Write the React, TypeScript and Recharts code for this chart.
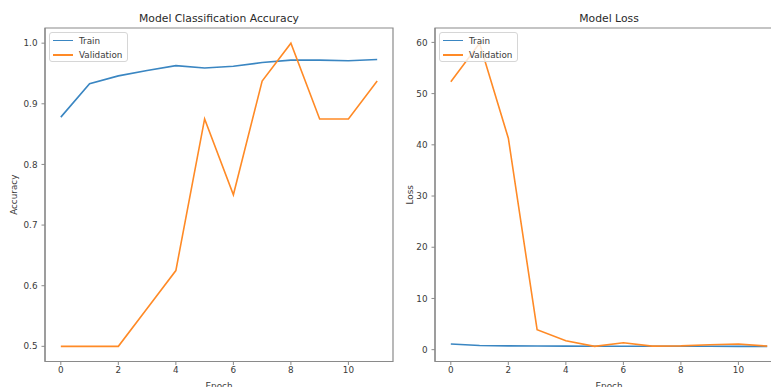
import React from 'react';
import { LineChart, Line, XAxis, YAxis, ReferenceArea, Legend, Label } from 'recharts';

const epochs = [0, 1, 2, 3, 4, 5, 6, 7, 8, 9, 10, 11];
const trainAccuracy = [0.878, 0.933, 0.946, 0.955, 0.963, 0.959, 0.962, 0.968, 0.972, 0.972, 0.971, 0.973];
const validationAccuracy = [0.5, 0.5, 0.5, 0.5625, 0.625, 0.875, 0.75, 0.9375, 1.0, 0.875, 0.875, 0.9375];
const trainLoss = [1.1, 0.8, 0.75, 0.72, 0.7, 0.68, 0.68, 0.67, 0.66, 0.66, 0.65, 0.65];
const validationLoss = [52.3, 59.85, 41.3, 3.9, 1.75, 0.65, 1.35, 0.7, 0.75, 0.95, 1.1, 0.7];

const epochTicks = [0, 2, 4, 6, 8, 10];
const accuracyTicks = [0.5, 0.6, 0.7, 0.8, 0.9, 1.0];
const lossTicks = [0, 10, 20, 30, 40, 50, 60];

const FONT = '"DejaVu Sans", sans-serif';
const TRAIN_COLOR = '#3a86c2';
const VAL_COLOR = '#ff8a26';
const SPINE = '#8a8a8a';
const TEXT = '#3a3a3a';

const pad = (vals: number[]): [number, number] => {
  const lo = Math.min(...vals);
  const hi = Math.max(...vals);
  const m = (hi - lo) * 0.05;
  return [lo - m, hi + m];
};

const xDomain = pad(epochs);
const accDomain = pad([...trainAccuracy, ...validationAccuracy]);
const lossDomain = pad([...trainLoss, ...validationLoss]);

const accuracyData = epochs.map((e, i) => ({ epoch: e, train: trainAccuracy[i], validation: validationAccuracy[i] }));
const lossData = epochs.map((e, i) => ({ epoch: e, train: trainLoss[i], validation: validationLoss[i] }));

const renderLegend = (props: any) => {
  const payload = props.payload || [];
  return (
    <div
      style={{
        position: 'absolute',
        left: 49,
        top: 32,
        width: 79,
        height: 30,
        boxSizing: 'border-box',
        border: '1px solid #d6d6d6',
        borderRadius: 3,
        background: 'rgba(255,255,255,0.8)',
        fontFamily: FONT,
        fontSize: 8.8,
        color: TEXT,
        lineHeight: '12px',
      }}
    >
      {payload.map((entry: any, i: number) => (
        <div
          key={i}
          style={{ position: 'absolute', left: 2.7, top: 1.7 + i * 14.3, height: 12, display: 'flex', alignItems: 'center', whiteSpace: 'nowrap' }}
        >
          <span style={{ display: 'inline-block', width: 20, height: 1.6, background: entry.color, marginRight: 6.3 }} />
          <span>{entry.value}</span>
        </div>
      ))}
    </div>
  );
};

const tickStyle = { fontSize: 8.8, fill: TEXT, fontFamily: FONT };

type PanelProps = {
  data: any[];
  yDomain: [number, number];
  yTicks: number[];
  yFormat: (v: number) => string;
  yLabel: string;
  yLabelOffset: number;
  width: number;
  rightMargin: number;
};

const Panel = ({ data, yDomain, yTicks, yFormat, yLabel, yLabelOffset, width, rightMargin }: PanelProps) => (
  <LineChart width={width} height={387} data={data} margin={{ top: 28, right: rightMargin, bottom: 0, left: 0 }}>
    <ReferenceArea
      x1={xDomain[0]}
      x2={xDomain[1]}
      y1={yDomain[0]}
      y2={yDomain[1]}
      fill="none"
      fillOpacity={0}
      stroke={SPINE}
      strokeWidth={1.2}
      ifOverflow="visible"
    />
    <XAxis
      type="number"
      dataKey="epoch"
      domain={xDomain}
      ticks={epochTicks}
      interval={0}
      allowDataOverflow
      height={25.5}
      tickSize={3.5}
      tickMargin={2}
      tick={tickStyle}
      axisLine={{ stroke: SPINE, strokeWidth: 1.2 }}
      tickLine={{ stroke: SPINE }}
    >
      <Label value="Epoch" position="insideBottom" offset={-1.5} style={{ fontSize: 8.8, fill: TEXT, fontFamily: FONT }} />
    </XAxis>
    <YAxis
      type="number"
      domain={yDomain}
      ticks={yTicks}
      interval={0}
      allowDataOverflow
      width={45}
      tickSize={3.5}
      tickMargin={4}
      tick={tickStyle}
      tickFormatter={yFormat}
      axisLine={{ stroke: SPINE, strokeWidth: 1.2 }}
      tickLine={{ stroke: SPINE }}
    >
      <Label
        value={yLabel}
        position="insideLeft"
        angle={-90}
        offset={yLabelOffset}
        style={{ fontSize: 8.8, fill: TEXT, fontFamily: FONT, textAnchor: 'middle' }}
      />
    </YAxis>
    <Line type="linear" dataKey="train" name="Train" stroke={TRAIN_COLOR} strokeWidth={1.6} dot={false} isAnimationActive={false} />
    <Line type="linear" dataKey="validation" name="Validation" stroke={VAL_COLOR} strokeWidth={1.6} dot={false} isAnimationActive={false} />
    <Legend content={renderLegend} wrapperStyle={{ left: 0, top: 0, width: 0, height: 0 }} />
  </LineChart>
);

const titleStyle = (centerX: number): React.CSSProperties => ({
  position: 'absolute',
  left: centerX - 150,
  width: 300,
  top: 12,
  textAlign: 'center',
  fontFamily: FONT,
  fontSize: 10.8,
  lineHeight: '14px',
  color: '#2a2a2a',
});

export default function App() {
  return (
    <div style={{ position: 'fixed', left: 0, top: 0, width: 771, height: 387, overflow: 'hidden', background: '#fff' }}>
      <div style={{ position: 'absolute', left: 0, top: 0 }}>
        <Panel
          data={accuracyData}
          yDomain={accDomain}
          yTicks={accuracyTicks}
          yFormat={(v) => v.toFixed(1)}
          yLabel="Accuracy"
          yLabelOffset={14}
          width={400}
          rightMargin={7}
        />
      </div>
      <div style={{ position: 'absolute', left: 390, top: 0 }}>
        <Panel
          data={lossData}
          yDomain={lossDomain}
          yTicks={lossTicks}
          yFormat={(v) => String(v)}
          yLabel="Loss"
          yLabelOffset={20}
          width={393}
          rightMargin={0}
        />
      </div>
      <div style={titleStyle(219)}>Model Classification Accuracy</div>
      <div style={titleStyle(609)}>Model Loss</div>
    </div>
  );
}
